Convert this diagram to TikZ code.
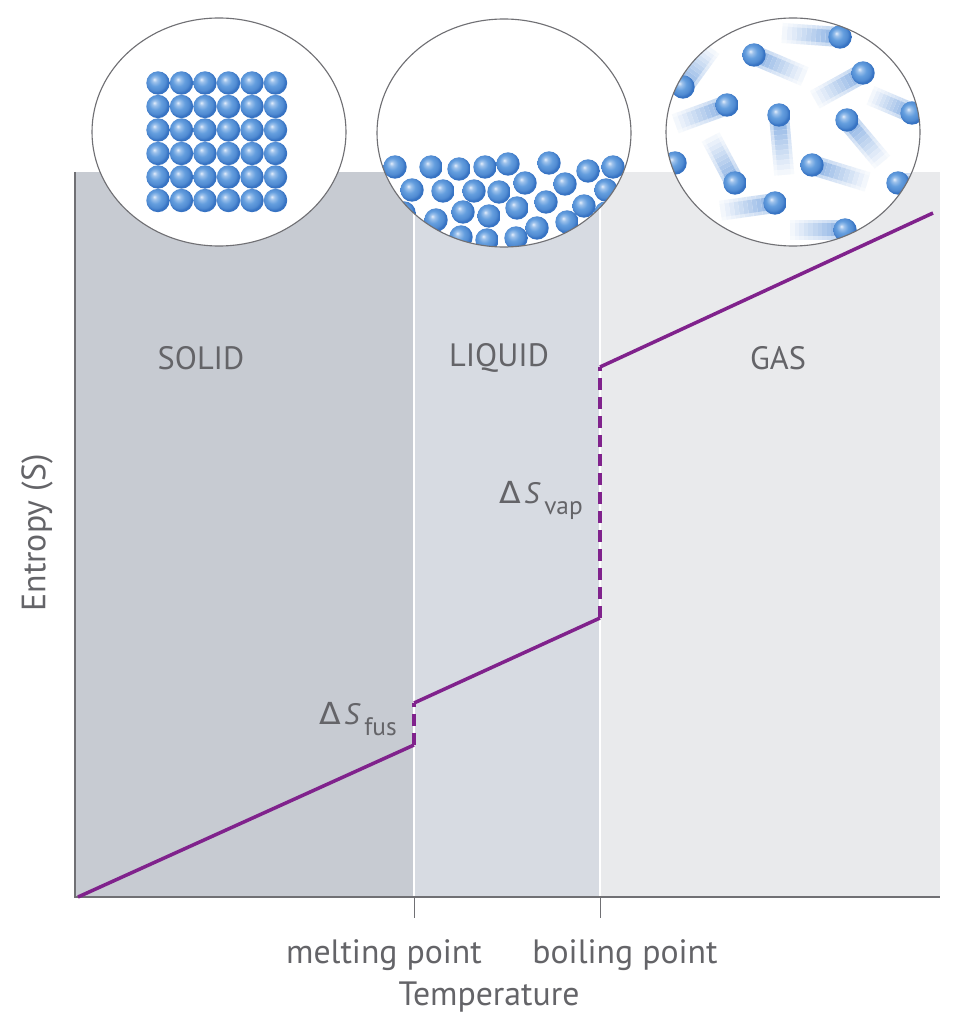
\documentclass[tikz,border=0pt]{standalone}
\usepackage{fontspec}
\setmainfont{PT Sans}
\newfontfamily\deltafont{DejaVu Sans}

\definecolor{solidgray}{RGB}{199,203,210}
\definecolor{liquidgray}{RGB}{215,219,226}
\definecolor{gasgray}{RGB}{233,234,236}
\definecolor{axisgray}{RGB}{112,112,116}
\definecolor{labelgray}{RGB}{100,100,104}
\definecolor{entropy}{RGB}{128,34,140}
\definecolor{ballhi}{RGB}{228,238,252}
\definecolor{ballmid}{RGB}{100,158,222}
\definecolor{balledge}{RGB}{55,115,195}
\definecolor{trailblue}{RGB}{125,168,224}

\pgfdeclareradialshading{sphere}{\pgfpoint{-8bp}{8bp}}{%
  color(0bp)=(ballhi); color(5bp)=(ballhi!45!ballmid); color(13bp)=(ballmid);
  color(21bp)=(ballmid!55!balledge); color(25bp)=(balledge); color(50bp)=(balledge)}

\newlength{\unitpx}
\setlength{\unitpx}{0.025cm}
\newcommand{\molecule}[2]{\shade[shading=sphere] ({#1},{-(#2)}) circle[radius=11.7];}
\newcommand{\trail}[4]{%
  \begin{scope}[shift={({#1},{-(#2)})}, rotate=#3]
    \foreach \k in {0,...,11}{
      \pgfmathtruncatemacro\pctout{50-4*\k}
      \pgfmathtruncatemacro\pctin{92-7.5*\k}
      \fill[trailblue!\pctout!white] ({#4*\k/12},-10) rectangle ({#4*(\k+1)/12},10);
      \fill[trailblue!\pctin!white] ({#4*\k/12},-6.5) rectangle ({#4*(\k+1)/12},6.5);
    }
  \end{scope}}
\newcommand{\deltaS}[1]{\makebox[25\unitpx][l]{\scalebox{1.25}[1.2]{\deltafont\fontsize{18}{22}\selectfont Δ}}%
  \makebox[20\unitpx][l]{\itshape S}\raisebox{-8.5pt}{\fontsize{18}{21}\selectfont #1}}

\begin{document}
\begin{tikzpicture}[x=0.025cm, y=0.025cm,
    phase/.style={text=labelgray, font=\fontsize{23}{27}\selectfont, inner sep=0pt},
    axislabel/.style={text=labelgray, font=\fontsize{24}{28}\selectfont, inner sep=0pt},
    jumplabel/.style={text=labelgray, font=\fontsize{21}{25}\selectfont, inner sep=0pt, anchor=base west},
    curve/.style={entropy, line width=2.5pt},
    jump/.style={curve, dash pattern=on 8.5pt off 5pt},
    lens/.style={draw=axisgray, line width=0.8pt}]
  \useasboundingbox (0,0) rectangle (955,-1024);

  % Phase regions
  \fill[solidgray] (75,-172) rectangle (414,-897);
  \fill[liquidgray] (414,-172) rectangle (600,-897);
  \fill[gasgray] (600,-172) rectangle (940,-897);
  \draw[white, line width=1.4pt] (414,-172) -- (414,-897) (600,-172) -- (600,-897);

  % Axes and ticks
  \draw[axisgray, line width=1pt] (75,-172) -- (75,-897) -- (940,-897);
  \draw[axisgray, line width=0.7pt] (414,-897) -- (414,-918) (600,-897) -- (600,-918);

  % Entropy curve
  \coordinate (s0) at (78,-897);
  \coordinate (m1) at (414,-745);
  \coordinate (m2) at (414,-703);
  \coordinate (b1) at (600,-618);
  \coordinate (b2) at (600,-367);
  \coordinate (s5) at (933,-213);
  \draw[curve] (s0) -- (m1);
  \draw[jump] (m1) -- (m2);
  \draw[curve] (m2) -- (b1);
  \draw[jump] (b1) -- (b2);
  \draw[curve] (b2) -- (s5);

  % Solid view
  \coordinate (solidview) at (219,-132);
  \fill[white] (solidview) ellipse[x radius=127, y radius=114];
  \foreach \i in {0,...,5}{
    \foreach \j in {0,...,5}{
      \molecule{158+23.5*\i}{83+23.5*\j}
    }
  }
  \draw[lens] (solidview) ellipse[x radius=127, y radius=114];

  % Liquid view
  \coordinate (liquidview) at (504,-133);
  \fill[white] (liquidview) ellipse[x radius=127, y radius=114];
  \begin{scope}
    \clip (liquidview) ellipse[x radius=127, y radius=114];
    \foreach \x/\y in {395/167, 431/167, 459/169, 485/167, 508/164, 549/163, 588/171, 613/167,
                       412/190, 443/191, 474/191, 499/192, 525/183, 565/184, 606/190,
                       404/213, 436/220, 463/212, 489/216, 517/208, 546/202, 584/206,
                       440/244, 461/237, 487/240, 516/238, 537/228, 567/222, 606/213}{
      \molecule{\x}{\y}
    }
  \end{scope}
  \draw[lens] (liquidview) ellipse[x radius=127, y radius=114];

  % Gas view
  \coordinate (gasview) at (793,-132);
  \fill[white] (gasview) ellipse[x radius=127, y radius=114];
  \begin{scope}
    \clip (gasview) ellipse[x radius=127, y radius=114];
    \foreach \x/\y/\a/\l in {840/37/176/58, 754/55/-23/55, 863/73/209/55, 683/87/54/48,
                             727/105/200/55, 779/115/-85/60, 847/120/-50/55, 912/113/157/45,
                             675/163/180/30, 735/183/118/52, 812/165/-17/58, 898/183/0/30,
                             775/203/188/55, 845/230/180/55}{
      \trail{\x}{\y}{\a}{\l}
    }
    \foreach \x/\y in {840/37, 754/55, 863/73, 683/87, 727/105, 779/115, 847/120, 912/113,
                       675/163, 735/183, 812/165, 898/183, 775/203, 845/230}{
      \molecule{\x}{\y}
    }
  \end{scope}
  \draw[lens] (gasview) ellipse[x radius=127, y radius=114];

  % Labels
  \node[phase] (solid) at (201,-358) {SOLID};
  \node[phase] (liquid) at (499,-358) {LIQUID};
  \node[phase] (gas) at (778,-358) {GAS};
  \node[jumplabel] (dfus) at (319,-724) {\deltaS{fus}};
  \node[jumplabel] (dvap) at (499,-503) {\deltaS{vap}};
  \node[axislabel, rotate=90] (yaxis) at (37,-533) {Entropy (S)};
  \node[axislabel, anchor=base] (melt) at (384,-963) {melting point};
  \node[axislabel, anchor=base] (boil) at (625,-963) {boiling point};
  \node[axislabel, anchor=base] (xaxis) at (489,-1005) {Temperature};
\end{tikzpicture}
\end{document}
